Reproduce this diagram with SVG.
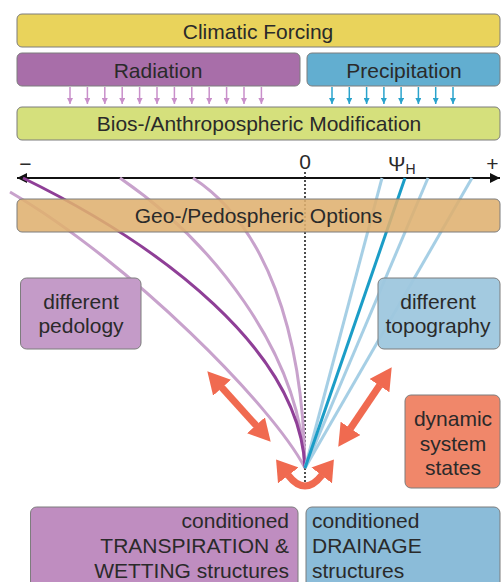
<svg xmlns="http://www.w3.org/2000/svg" width="501" height="582" viewBox="0 0 501 582">
<style>
  text{font-family:"Liberation Sans",Arial,sans-serif;fill:#2a2a2a;font-size:21px}
  .box{stroke:#7d7d7d;stroke-width:1}
  .lp{fill:none;stroke:#c8a2cc;stroke-width:3}
  .dp{fill:none;stroke:#8f3f97;stroke-width:3}
  .lb{fill:none;stroke:#a6cfe5;stroke-width:3}
  .db{fill:none;stroke:#1b9dc7;stroke-width:3}
  .sp{stroke:#c98fca;stroke-width:1.5}
  .sb{stroke:#2aa3cc;stroke-width:1.5}
  .orange{fill:none;stroke:#f06a50;stroke-width:7}
</style>
<defs>
  <marker id="ah" viewBox="0 0 10 10" refX="10" refY="5" markerWidth="10" markerHeight="10" markerUnits="userSpaceOnUse" orient="auto-start-reverse">
    <path d="M0,0 L10,5 L0,10 z" fill="#111"/>
  </marker>
  <marker id="sap" viewBox="0 0 6 6" refX="6" refY="3" markerWidth="6" markerHeight="6" markerUnits="userSpaceOnUse" orient="auto">
    <path d="M0,0 L6,3 L0,6 z" fill="#c98fca"/>
  </marker>
  <marker id="sab" viewBox="0 0 6 6" refX="6" refY="3" markerWidth="6" markerHeight="6" markerUnits="userSpaceOnUse" orient="auto">
    <path d="M0,0 L6,3 L0,6 z" fill="#2aa3cc"/>
  </marker>
  <marker id="oa" viewBox="0 0 22 24" refX="0.5" refY="12" markerWidth="22" markerHeight="24" markerUnits="userSpaceOnUse" orient="auto-start-reverse">
    <path d="M0,0 L22,12 L0,24 z" fill="#f06a50"/>
  </marker>
  <marker id="ob" viewBox="0 0 20 26" refX="0.5" refY="13" markerWidth="20" markerHeight="26" markerUnits="userSpaceOnUse" orient="auto-start-reverse">
    <path d="M0,0 L20,13 L0,26 z" fill="#f06a50"/>
  </marker>
</defs>

<g id="climatic-forcing">
  <rect class="box" x="17" y="14" width="483" height="33" rx="5" fill="#e9d35b"/>
  <text x="258" y="39" text-anchor="middle">Climatic Forcing</text>
</g>
<g id="radiation">
  <rect class="box" x="17" y="53" width="283" height="33" rx="5" fill="#a86ea9"/>
  <text x="158" y="78" text-anchor="middle">Radiation</text>
</g>
<g id="precipitation">
  <rect class="box" x="307" y="53" width="193" height="33" rx="5" fill="#62aed0"/>
  <text x="404" y="78" text-anchor="middle">Precipitation</text>
</g>
<g id="bios">
  <rect class="box" x="17" y="107" width="483" height="33" rx="5" fill="#d5e07c"/>
  <text x="259" y="131" text-anchor="middle">Bios-/Anthropospheric Modification</text>
</g>

<g id="connectors">
  <g id="radiation-arrows">
    <line class="sp" x1="70" y1="87" x2="70" y2="104" marker-end="url(#sap)"/>
    <line class="sp" x1="87.4" y1="87" x2="87.4" y2="104" marker-end="url(#sap)"/>
    <line class="sp" x1="104.8" y1="87" x2="104.8" y2="104" marker-end="url(#sap)"/>
    <line class="sp" x1="122.2" y1="87" x2="122.2" y2="104" marker-end="url(#sap)"/>
    <line class="sp" x1="139.6" y1="87" x2="139.6" y2="104" marker-end="url(#sap)"/>
    <line class="sp" x1="157" y1="87" x2="157" y2="104" marker-end="url(#sap)"/>
    <line class="sp" x1="174.4" y1="87" x2="174.4" y2="104" marker-end="url(#sap)"/>
    <line class="sp" x1="191.8" y1="87" x2="191.8" y2="104" marker-end="url(#sap)"/>
    <line class="sp" x1="209.2" y1="87" x2="209.2" y2="104" marker-end="url(#sap)"/>
    <line class="sp" x1="226.6" y1="87" x2="226.6" y2="104" marker-end="url(#sap)"/>
    <line class="sp" x1="244" y1="87" x2="244" y2="104" marker-end="url(#sap)"/>
    <line class="sp" x1="261.4" y1="87" x2="261.4" y2="104" marker-end="url(#sap)"/>
  </g>
  <g id="precipitation-arrows">
    <line class="sb" x1="332" y1="87" x2="332" y2="104" marker-end="url(#sab)"/>
    <line class="sb" x1="349.3" y1="87" x2="349.3" y2="104" marker-end="url(#sab)"/>
    <line class="sb" x1="366.6" y1="87" x2="366.6" y2="104" marker-end="url(#sab)"/>
    <line class="sb" x1="383.9" y1="87" x2="383.9" y2="104" marker-end="url(#sab)"/>
    <line class="sb" x1="401.1" y1="87" x2="401.1" y2="104" marker-end="url(#sab)"/>
    <line class="sb" x1="418.4" y1="87" x2="418.4" y2="104" marker-end="url(#sab)"/>
    <line class="sb" x1="435.7" y1="87" x2="435.7" y2="104" marker-end="url(#sab)"/>
    <line class="sb" x1="453" y1="87" x2="453" y2="104" marker-end="url(#sab)"/>
  </g>

  <line x1="17" y1="178" x2="500" y2="178" stroke="#111" stroke-width="1.8" marker-start="url(#ah)" marker-end="url(#ah)"/>
  <line x1="305" y1="172" x2="305" y2="482" stroke="#222" stroke-width="1.6" stroke-dasharray="2,2"/>

  <path class="lp" d="M10,192 C130,262 272,405 305,468"/>
  <path class="lp" d="M120,178 C210,240 300,350 305,468"/>
  <path class="lp" d="M193,178 C265,225 303,330 305,468"/>
  <path class="dp" d="M23,178 C160,245 300,350 305,468"/>
  <line class="lb" x1="382" y1="178" x2="305" y2="468"/>
  <line class="lb" x1="428" y1="178" x2="305" y2="468"/>
  <line class="lb" x1="472" y1="178" x2="305" y2="468"/>
  <line class="db" x1="405" y1="178" x2="305" y2="468"/>

  <line class="orange" x1="221.7" y1="387.3" x2="256.3" y2="425.7" marker-start="url(#oa)" marker-end="url(#oa)"/>
  <line class="orange" x1="379.7" y1="385.2" x2="350.3" y2="428.8" marker-start="url(#oa)" marker-end="url(#oa)"/>
  <path class="orange" stroke-width="6" d="M288,475 Q305,497 322,475" marker-start="url(#ob)" marker-end="url(#ob)"/>
</g>

<g id="axis-labels">
  <text x="25.5" y="171" text-anchor="middle" font-size="20">−</text>
  <text x="305" y="169" text-anchor="middle" font-size="20">0</text>
  <text x="388" y="171" font-size="20">Ψ<tspan font-size="14" dy="3">H</tspan></text>
  <text x="492.5" y="171" text-anchor="middle" font-size="20">+</text>
</g>

<g id="geo">
  <rect class="box" x="17" y="199" width="483" height="33" rx="5" fill="#dfb170" fill-opacity="0.88"/>
  <text x="258.5" y="223" text-anchor="middle">Geo-/Pedospheric Options</text>
</g>

<g id="pedology">
  <rect class="box" x="20.5" y="278" width="120.5" height="71" rx="6" fill="#c49bc8"/>
  <text x="81" y="309" text-anchor="middle">different</text>
  <text x="81" y="333" text-anchor="middle">pedology</text>
</g>
<g id="topography">
  <rect class="box" x="378" y="278" width="122" height="71" rx="6" fill="#9ec7de" fill-opacity="0.95"/>
  <text x="438" y="309" text-anchor="middle">different</text>
  <text x="438" y="333" text-anchor="middle">topography</text>
</g>
<g id="dynamic">
  <rect class="box" x="405" y="395" width="95" height="93" rx="6" fill="#f0876a"/>
  <text x="453" y="426" text-anchor="middle">dynamic</text>
  <text x="453" y="450.5" text-anchor="middle">system</text>
  <text x="453" y="475" text-anchor="middle">states</text>
</g>

<g id="transpiration">
  <rect class="box" x="30.5" y="507" width="267.5" height="90" rx="6" fill="#bf8dc0"/>
  <text x="289" y="528" text-anchor="end">conditioned</text>
  <text x="289" y="553" text-anchor="end">TRANSPIRATION &amp;</text>
  <text x="289" y="578" text-anchor="end">WETTING structures</text>
</g>
<g id="drainage">
  <rect class="box" x="306" y="507" width="194" height="90" rx="6" fill="#8bbcd9"/>
  <text x="312" y="528">conditioned</text>
  <text x="312" y="553">DRAINAGE</text>
  <text x="312" y="578">structures</text>
</g>
</svg>
